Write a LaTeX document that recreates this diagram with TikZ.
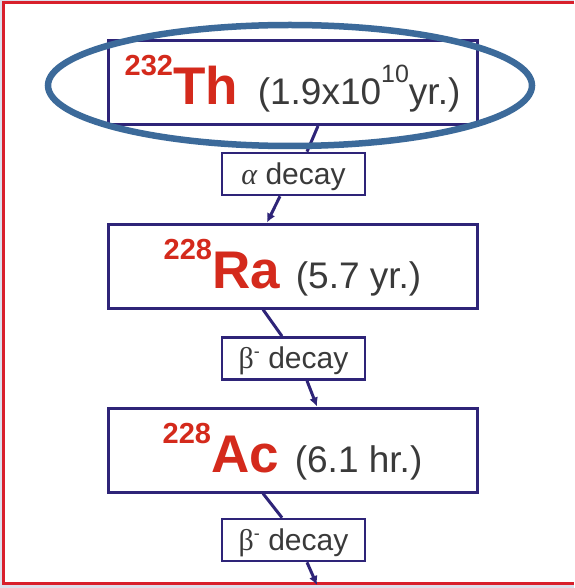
\documentclass[tikz,border=0pt]{standalone}
\usepackage{fontspec}
\setmainfont{Liberation Sans}
\newfontfamily\grkfont{Liberation Serif}
\usetikzlibrary{arrows.meta,shapes.geometric}
\definecolor{elred}{HTML}{D42A1C}
\definecolor{navy}{HTML}{2E2478}
\definecolor{ellblue}{HTML}{3C6A9A}
\definecolor{framered}{HTML}{D8202C}
\definecolor{txtgray}{HTML}{3A3A3A}
\definecolor{outside}{HTML}{DCE0EC}
\newcommand\isotope[2]{{\color{elred}\bfseries\raisebox{29pt}{\fontsize{29}{29}\selectfont #1}\fontsize{53}{53}\selectfont #2}}
\newcommand\halflife[1]{{\color{txtgray}\fontsize{37}{37}\selectfont #1}}
\begin{document}
\begin{tikzpicture}[x=1pt,y=-1pt,
 nuc/.style={draw=navy,line width=3pt,fill=white,minimum width=369pt,minimum height=84pt,inner sep=0pt,text height=64pt,text depth=20pt},
 decaybox/.style={draw=navy,line width=2.6pt,fill=white,minimum width=143pt,minimum height=42pt,inner sep=0pt,text height=31pt,text depth=11pt,font=\fontsize{30}{30}\selectfont,text=txtgray},
 link/.style={draw=navy,line width=3pt},
 tiplink/.style={link,-{Latex[length=9pt,width=9pt]}},
 ring/.style={draw=ellblue,line width=6.5pt,ellipse,inner sep=0pt}
]
\fill[outside] (0,0) rectangle (574,588);
\useasboundingbox (0,0) rectangle (574,588);
\fill[white] (3,3) rectangle (574,583);
\draw[framered,line width=3pt] (574,3) -- (3,3) -- (3,583) -- (574,583);

\node[nuc] (th) at (292.5,82.5) {\isotope{232}{Th}\hspace{20pt}\halflife{(1.9x10\raisebox{22pt}{\fontsize{25}{25}\selectfont 10}yr.)}};
\node[decaybox] (alpha) at (293.5,174) {{\grkfont\itshape α} decay};
\node[nuc] (ra) at (292.5,266) {\isotope{228}{Ra}\hspace{16pt}\halflife{(5.7 yr.)}};
\node[decaybox] (beta1) at (293.5,358.5) {{\grkfont β}\raisebox{11pt}{\fontsize{18}{18}\selectfont -} decay};
\node[nuc] (ac) at (292.5,450) {\isotope{228}{Ac}\hspace{16pt}\halflife{(6.1 hr.)}};
\node[decaybox] (beta2) at (293.5,540) {{\grkfont β}\raisebox{11pt}{\fontsize{18}{18}\selectfont -} decay};
\coordinate (next) at (317,585);

\draw[link] ([xshift=25.5pt]th.south) -- ([xshift=13.5pt]alpha.north);
\draw[tiplink] ([xshift=-13.5pt]alpha.south) -- ([xshift=-25.5pt]ra.north);
\draw[link] ([xshift=-29.5pt]ra.south) -- ([xshift=-11.5pt]beta1.north);
\draw[tiplink] ([xshift=13.5pt]beta1.south) -- ([xshift=24.5pt]ac.north);
\draw[link] ([xshift=-29.5pt]ac.south) -- ([xshift=-11.5pt]beta2.north);
\draw[tiplink] ([xshift=13.5pt]beta2.south) -- (next);

\node[ring,minimum width=484pt,minimum height=121pt] (halo) at (290,85.5) {};
\end{tikzpicture}
\end{document}
